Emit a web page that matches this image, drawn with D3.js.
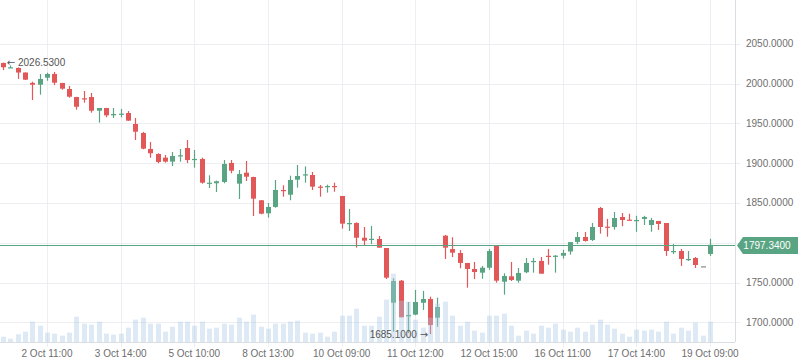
<!DOCTYPE html>
<html>
<head>
<meta charset="utf-8">
<script src="https://cdn.jsdelivr.net/npm/d3@7"></script>
<style>
  body { margin: 0; background: #fff; }
  text { font-family: "Liberation Sans", Arial, sans-serif; }
</style>
</head>
<body>
<div class="canvas"></div>
<script>
var width = 798,
	height = 363;

// ---------- data ----------
var open  = [2026.0, 2019.8, 2019.8, 2014.0, 2001.0, 1998.7, 2007.5, 2012.2, 2000.9, 1993.3,
	1983.2, 1981.6, 1983.2, 1966.0, 1969.4, 1960.2, 1961.5, 1963.1, 1949.3, 1938.0,
	1917.9, 1911.6, 1907.0, 1902.0, 1909.5, 1919.1, 1904.9, 1905.3, 1875.1, 1874.8,
	1876.4, 1900.3, 1874.3, 1888.1, 1882.7, 1853.4, 1837.0, 1845.0, 1866.3, 1860.4,
	1879.3, 1885.2, 1885.2, 1870.5, 1870.5, 1871.3, 1858.8, 1824.0, 1824.8, 1806.3,
	1804.3, 1804.7, 1793.4, 1724.6, 1752.3, 1707.5, 1709.6, 1724.6, 1729.3, 1705.8,
	1808.9, 1792.0, 1787.1, 1774.6, 1767.0, 1762.4, 1768.6, 1795.9, 1751.0, 1757.8,
	1752.3, 1762.9, 1776.2, 1777.1, 1783.6, 1782.5, 1783.7, 1789.0, 1801.0, 1807.2,
	1803.5, 1843.7, 1820.2, 1819.8, 1832.4, 1829.0, 1828.2, 1829.9, 1822.3, 1827.4,
	1824.8, 1788.4, 1789.6, 1778.7, 1780.8, 1770.4, 1785.9];
var high  = [2026.53, 2023.0, 2020.5, 2014.2, 2002.5, 2012.2, 2013.8, 2014.7, 2001.0, 1997.1,
	1983.5, 1990.8, 1988.3, 1969.4, 1969.6, 1969.4, 1968.2, 1965.6, 1956.9, 1939.3,
	1926.7, 1912.5, 1910.3, 1914.1, 1917.9, 1929.2, 1916.6, 1907.0, 1884.8, 1878.1,
	1904.0, 1904.0, 1891.5, 1902.8, 1883.0, 1853.8, 1850.0, 1878.9, 1872.2, 1884.3,
	1897.8, 1896.0, 1889.0, 1872.6, 1873.0, 1875.5, 1858.8, 1842.4, 1825.7, 1819.8,
	1821.1, 1808.5, 1793.4, 1755.3, 1753.2, 1725.5, 1740.6, 1739.4, 1732.2, 1731.0,
	1809.8, 1806.9, 1790.9, 1774.6, 1775.8, 1770.8, 1792.2, 1795.9, 1761.6, 1775.8,
	1768.3, 1780.8, 1780.8, 1782.1, 1792.2, 1784.6, 1791.0, 1800.8, 1813.5, 1813.5,
	1824.8, 1845.0, 1830.0, 1838.7, 1837.4, 1836.5, 1833.9, 1833.9, 1831.1, 1827.4,
	1824.8, 1798.4, 1792.2, 1789.6, 1782.1, 1770.4, 1805.0];
var low   = [2017.2, 2019.8, 2006.0, 2004.6, 1979.5, 1986.2, 2003.7, 1998.4, 1992.4, 1982.4,
	1967.3, 1976.1, 1963.5, 1951.0, 1957.7, 1956.8, 1957.7, 1953.3, 1929.2, 1917.5,
	1906.9, 1900.0, 1900.7, 1896.5, 1901.9, 1900.3, 1894.4, 1874.3, 1868.8, 1863.8,
	1874.8, 1887.3, 1855.0, 1877.6, 1833.6, 1835.8, 1831.5, 1844.0, 1857.9, 1853.4,
	1869.3, 1875.5, 1866.3, 1857.9, 1863.0, 1864.2, 1817.7, 1814.8, 1793.8, 1795.9,
	1798.4, 1793.8, 1754.4, 1688.2, 1706.3, 1686.5, 1708.8, 1715.5, 1685.1, 1694.5,
	1779.6, 1782.0, 1767.9, 1743.5, 1754.4, 1754.8, 1766.1, 1749.8, 1734.7, 1751.9,
	1749.8, 1761.6, 1762.4, 1761.1, 1772.4, 1762.4, 1780.0, 1785.0, 1798.4, 1801.4,
	1802.2, 1811.4, 1807.6, 1816.5, 1820.7, 1828.0, 1813.8, 1822.3, 1813.8, 1816.1,
	1783.4, 1785.9, 1770.8, 1777.1, 1768.3, 1770.4, 1783.4];
var close = [2020.6, 2020.6, 2014.0, 2005.0, 1998.7, 2005.9, 2012.2, 2001.2, 1993.7, 1983.6,
	1971.0, 1980.4, 1966.0, 1969.4, 1960.2, 1961.9, 1962.3, 1953.5, 1939.6, 1918.3,
	1912.5, 1901.5, 1902.0, 1909.1, 1910.0, 1904.0, 1905.4, 1875.5, 1875.5, 1877.3,
	1899.0, 1890.6, 1886.4, 1883.0, 1855.4, 1836.5, 1845.0, 1866.3, 1865.5, 1878.9,
	1883.9, 1886.0, 1870.5, 1870.0, 1871.3, 1870.5, 1824.0, 1824.8, 1806.3, 1802.6,
	1805.0, 1793.8, 1756.1, 1751.9, 1706.3, 1709.2, 1725.5, 1729.3, 1696.6, 1719.2,
	1793.8, 1787.5, 1774.6, 1767.0, 1763.2, 1768.6, 1789.6, 1752.3, 1758.2, 1753.2,
	1762.0, 1774.6, 1777.1, 1761.1, 1783.3, 1783.7, 1787.1, 1800.8, 1807.2, 1802.2,
	1819.8, 1819.8, 1819.8, 1831.1, 1828.6, 1828.6, 1828.6, 1832.4, 1828.6, 1823.6,
	1789.6, 1789.6, 1779.6, 1779.6, 1772.0, 1770.4, 1797.34];
var volume = [53, 33, 77, 103, 203, 163, 93, 83, 63, 93,
	253, 183, 173, 203, 83, 73, 83, 143, 223, 243,
	183, 183, 103, 153, 203, 203, 163, 203, 133, 143,
	183, 173, 243, 203, 273, 153, 133, 183, 183, 203,
	213, 93, 83, 93, 53, 103, 263, 263, 333, 163,
	163, 253, 423, 683, 413, 403, 223, 143, 243, 383,
	403, 263, 163, 203, 113, 93, 263, 263, 283, 163,
	63, 113, 83, 163, 143, 183, 123, 103, 143, 103,
	173, 223, 173, 133, 83, 53, 123, 113, 123, 103,
	203, 83, 143, 113, 193, 63, 203];

var tickIndex  = [6, 16, 26, 36, 46, 56, 66, 76, 86, 96];
var tickLabels = ["2 Oct 11:00", "3 Oct 14:00", "5 Oct 10:00", "8 Oct 13:00", "10 Oct 09:00",
	"11 Oct 12:00", "12 Oct 15:00", "16 Oct 11:00", "17 Oct 14:00", "19 Oct 09:00"];
var priceTicks = [1700, 1750, 1800, 1850, 1900, 1950, 2000, 2050];

var lastPrice = close[close.length - 1];

var red = "#e25858",
	green = "#59a583",
	flat = "#888",
	gridColor = "#eceef1",
	textColor = "#6e6e6e";

// ---------- canvas ----------
var plotW = 735,
	plotH = 342;

var canvas = d3.select(".canvas")
	.append("svg")
	.attr("width", width)
	.attr("height", height);

var x = d3.scaleLinear()
	.domain([-0.38, 99.39])
	.range([0, plotW]);

var y = d3.scaleLinear()
	.domain([1675.2, 2105.2])
	.range([plotH, 0]);

var yVol = d3.scaleLinear()
	.domain([0, d3.max(volume)])
	.range([plotH, plotH - 68.3]);

/* ---------- grid ---------- */
var grid = canvas.append("g");

grid.selectAll(".hgrid")
	.data(priceTicks)
	.enter().append("line")
	.attr("x1", 0)
	.attr("x2", plotW + 5)
	.attr("y1", d => Math.round(y(d)) + 0.5)
	.attr("y2", d => Math.round(y(d)) + 0.5)
	.attr("stroke", gridColor);

grid.selectAll(".vgrid")
	.data(tickIndex)
	.enter().append("line")
	.attr("x1", d => Math.round(x(d)) + 0.5)
	.attr("x2", d => Math.round(x(d)) + 0.5)
	.attr("y1", 0)
	.attr("y2", plotH + 5)
	.attr("stroke", gridColor);

// axis lines
canvas.append("line")
	.attr("x1", plotW + 0.5).attr("x2", plotW + 0.5)
	.attr("y1", 0).attr("y2", plotH)
	.attr("stroke", "#dadde1");
canvas.append("line")
	.attr("x1", 0).attr("x2", plotW)
	.attr("y1", plotH + 0.5).attr("y2", plotH + 0.5)
	.attr("stroke", "#dadde1");

/* ---------- axis labels ---------- */
var lastY = y(lastPrice);

// the tick label hidden behind the last-price tag is not drawn
canvas.selectAll(".ylab")
	.data(priceTicks.filter(d => Math.abs(y(d) - lastY) > 12))
	.enter().append("text")
	.attr("x", 746)
	.attr("y", d => y(d) + 3.5)
	.attr("font-size", "10px")
	.attr("fill", textColor)
	.text(d => d.toFixed(4));

canvas.selectAll(".xlab")
	.data(tickIndex)
	.enter().append("text")
	.attr("x", d => x(d))
	.attr("y", 357)
	.attr("text-anchor", "middle")
	.attr("font-size", "10px")
	.attr("fill", textColor)
	.text((d, i) => tickLabels[i]);

/* ---------- candles ---------- */
var candles = canvas.append("g");
var idx = d3.range(open.length);

function colorOf(i) {
	if (close[i] > open[i]) return green;
	if (close[i] < open[i]) return red;
	return high[i] === low[i] ? flat : (i > 0 && close[i] >= close[i - 1] ? green : red);
}

candles.selectAll(".wick")
	.data(idx)
	.enter().append("line")
	.attr("x1", i => Math.round(x(i)) + 0.5)
	.attr("x2", i => Math.round(x(i)) + 0.5)
	.attr("y1", i => y(high[i]))
	.attr("y2", i => y(low[i]))
	.attr("stroke", colorOf)
	.attr("stroke-width", 1.2);

candles.selectAll(".body")
	.data(idx)
	.enter().append("rect")
	.attr("x", i => Math.round(x(i)) - 2)
	.attr("width", 5)
	.attr("y", i => y(Math.max(open[i], close[i])))
	.attr("height", i => Math.max(1.2, Math.abs(y(open[i]) - y(close[i]))))
	.attr("fill", colorOf);

/* ---------- volume ---------- */
canvas.append("g").selectAll("rect")
	.data(idx)
	.enter().append("rect")
	.attr("x", i => Math.round(x(i)) - 2)
	.attr("width", 5)
	.attr("y", i => yVol(volume[i]))
	.attr("height", i => plotH - yVol(volume[i]))
	.attr("fill", "rgba(170, 200, 230, 0.4)");

/* ---------- last price ---------- */
var ly = Math.round(lastY) + 0.5;
canvas.append("line")
	.attr("x1", 0).attr("x2", plotW)
	.attr("y1", ly).attr("y2", ly)
	.attr("stroke", green)
	.attr("stroke-width", 1);

canvas.append("path")
	.attr("d", "M737," + ly + " L743," + (ly - 8.5) + " L798," + (ly - 8.5) +
		" L798," + (ly + 8.5) + " L743," + (ly + 8.5) + " Z")
	.attr("fill", green);

canvas.append("text")
	.attr("x", 767)
	.attr("y", ly + 3.5)
	.attr("text-anchor", "middle")
	.attr("font-size", "10px")
	.attr("fill", "#fff")
	.text(lastPrice.toFixed(4));

/* ---------- max / min marks ---------- */
var iMax = d3.maxIndex(high),
	iMin = d3.minIndex(low);

var maxLab = canvas.append("text")
	.attr("x", x(iMax) + 4)
	.attr("y", y(high[iMax]) + 3.5)
	.attr("font-size", "10px")
	.attr("fill", "#555");
maxLab.append("tspan").attr("font-family", "DejaVu Sans").text("\u2190");
maxLab.append("tspan").text(" " + high[iMax].toFixed(4));

var minLab = canvas.append("text")
	.attr("x", x(iMin) - 2)
	.attr("y", y(low[iMin]) + 3.5)
	.attr("text-anchor", "end")
	.attr("font-size", "10px")
	.attr("fill", "#555");
minLab.append("tspan").text(low[iMin].toFixed(4) + " ");
minLab.append("tspan").attr("font-family", "DejaVu Sans").text("\u2192");
</script>
</body>
</html>
